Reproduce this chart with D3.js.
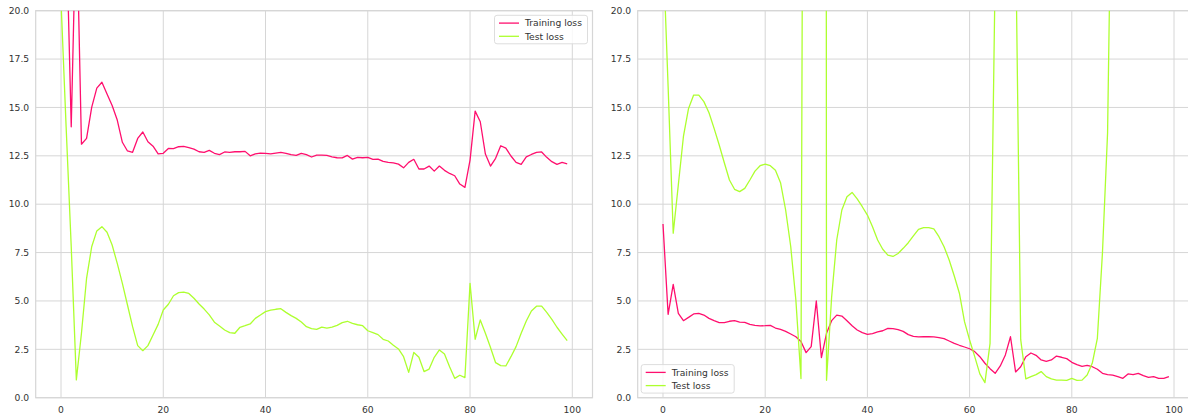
<!DOCTYPE html>
<html>
<head>
<meta charset="utf-8">
<script src="https://cdn.jsdelivr.net/npm/d3@7"></script>
<style>
  html, body { margin: 0; padding: 0; background: #ffffff; }
  svg { display: block; }
</style>
</head>
<body>
<div id="chart"></div>
<script>
// epochs 0..99
const epochs = d3.range(100);

const leftTrain = [30, 24.7, 14.0, 25.5, 13.1, 13.4, 15.0, 16.0, 16.3, 15.7,
  15.1, 14.35, 13.2, 12.75, 12.68, 13.4, 13.73, 13.23, 13.0, 12.6,
  12.63, 12.88, 12.87, 12.97, 12.99, 12.92, 12.85, 12.71, 12.68, 12.78,
  12.63, 12.56, 12.7, 12.68, 12.71, 12.71, 12.73, 12.5, 12.6, 12.64,
  12.63, 12.6, 12.64, 12.68, 12.63, 12.56, 12.52, 12.63, 12.56, 12.44,
  12.54, 12.54, 12.52, 12.45, 12.4, 12.39, 12.52, 12.33, 12.42, 12.4,
  12.42, 12.32, 12.33, 12.21, 12.16, 12.14, 12.07, 11.88, 12.16, 12.32,
  11.82, 11.82, 11.97, 11.71, 11.97, 11.75, 11.59, 11.47, 11.04, 10.87,
  12.28, 14.81, 14.26, 12.59, 11.97, 12.37, 13.02, 12.9, 12.49, 12.16,
  12.06, 12.45, 12.57, 12.68, 12.7, 12.42, 12.2, 12.06, 12.16, 12.09];

const leftTest = [20.5, 14.0, 7.8, 0.92, 3.33, 6.17, 7.8, 8.62, 8.84, 8.55,
  7.89, 6.94, 5.91, 4.79, 3.67, 2.69, 2.43, 2.69, 3.24, 3.79,
  4.53, 4.83, 5.27, 5.43, 5.46, 5.39, 5.14, 4.84, 4.58, 4.28,
  3.9, 3.71, 3.5, 3.36, 3.33, 3.64, 3.72, 3.81, 4.1, 4.27,
  4.45, 4.53, 4.57, 4.6, 4.41, 4.24, 4.1, 3.91, 3.67, 3.57,
  3.53, 3.65, 3.6, 3.65, 3.74, 3.88, 3.95, 3.84, 3.77, 3.72,
  3.46, 3.36, 3.26, 3.02, 2.93, 2.71, 2.52, 2.12, 1.31, 2.34,
  2.09, 1.35, 1.48, 2.09, 2.47, 2.26, 1.6, 1.0, 1.16, 1.04,
  5.91, 3.02, 4.02, 3.33, 2.59, 1.81, 1.66, 1.64, 2.12, 2.64,
  3.33, 3.96, 4.48, 4.73, 4.73, 4.41, 4.05, 3.64, 3.29, 2.95];

const rightTrain = [8.98, 4.31, 5.86, 4.36, 3.98, 4.15, 4.33, 4.36, 4.27, 4.1,
  3.98, 3.88, 3.88, 3.95, 3.98, 3.91, 3.89, 3.79, 3.74, 3.71,
  3.72, 3.74, 3.6, 3.53, 3.43, 3.29, 3.15, 2.9, 2.33, 2.64,
  5.0, 2.07, 3.33, 3.98, 4.27, 4.22, 3.98, 3.72, 3.5, 3.36,
  3.27, 3.31, 3.4, 3.46, 3.58, 3.57, 3.52, 3.43, 3.26, 3.17,
  3.14, 3.15, 3.15, 3.14, 3.1, 3.05, 2.93, 2.81, 2.71, 2.62,
  2.53, 2.38, 2.12, 1.78, 1.5, 1.26, 1.64, 2.21, 3.15, 1.33,
  1.6, 2.12, 2.31, 2.19, 1.95, 1.88, 1.95, 2.15, 2.09, 2.02,
  1.83, 1.71, 1.62, 1.67, 1.6, 1.47, 1.26, 1.19, 1.17, 1.09,
  1.0, 1.23, 1.19, 1.26, 1.14, 1.05, 1.09, 1.0, 1.0, 1.09];

const rightTest = [23.3, 16.1, 8.5, 11.0, 13.5, 14.95, 15.64, 15.64, 15.3, 14.73,
  13.92, 13.06, 12.14, 11.25, 10.77, 10.65, 10.82, 11.25, 11.71, 11.99,
  12.07, 11.99, 11.76, 11.11, 9.7, 7.8, 5.05, 0.99, 80, 150,
  300, 480, 0.9, 5.2, 8.15, 9.7, 10.39, 10.61, 10.27, 9.87,
  9.44, 8.84, 8.15, 7.67, 7.37, 7.3, 7.45, 7.72, 8.01, 8.36,
  8.7, 8.79, 8.79, 8.73, 8.32, 7.8, 7.12, 6.29, 5.4, 3.93,
  2.98, 2.12, 1.23, 0.78, 2.81, 22, 60, 80, 50, 24,
  3.0, 0.97, 1.09, 1.19, 1.35, 1.09, 0.97, 0.91, 0.91, 0.9,
  1.0, 0.9, 0.91, 1.17, 1.78, 3.07, 7.5, 13.7, 32, 55,
  80, 110, 140, 170, 200, 230, 260, 290, 320, 350];

const yTicks = [0, 2.5, 5, 7.5, 10, 12.5, 15, 17.5, 20];
const xTicks = [0, 20, 40, 60, 80, 100];
const seriesNames = ["Training loss", "Test loss"];

const W = 1188, H = 418;
const trainColor = "#ff0f6e";
const testColor = "#adff2f";
const gridColor = "#d6d6d6";
const textColor = "#333333";
const font = "'DejaVu Sans', sans-serif";
const fontSize = 9.2;

const svg = d3.select("#chart").append("svg")
  .attr("width", W)
  .attr("height", H)
  .attr("viewBox", [0, 0, W, H]);

function panel(id, x0, x1, train, test, legendPos) {
  const top = 10.7, bottom = 397.7;
  const x = d3.scaleLinear().domain([-4.95, 103.95]).range([x0, x1]);
  const y = d3.scaleLinear().domain([0, 20]).range([bottom, top]);

  const g = svg.append("g");

  g.append("clipPath").attr("id", "clip-" + id)
    .append("rect")
    .attr("x", x0).attr("y", top)
    .attr("width", x1 - x0).attr("height", bottom - top);

  // grid
  g.append("g")
    .selectAll("line.h")
    .data(yTicks)
    .join("line")
    .attr("x1", x0).attr("x2", x1)
    .attr("y1", d => y(d)).attr("y2", d => y(d))
    .attr("stroke", gridColor).attr("stroke-width", 1);

  g.append("g")
    .selectAll("line.v")
    .data(xTicks)
    .join("line")
    .attr("x1", d => x(d)).attr("x2", d => x(d))
    .attr("y1", top).attr("y2", bottom)
    .attr("stroke", gridColor).attr("stroke-width", 1);

  // frame
  g.append("rect")
    .attr("x", x0).attr("y", top)
    .attr("width", x1 - x0).attr("height", bottom - top)
    .attr("fill", "none")
    .attr("stroke", gridColor)
    .attr("stroke-width", 1.2);

  // tick labels
  g.append("g")
    .selectAll("text")
    .data(yTicks)
    .join("text")
    .attr("x", x0 - 6.5)
    .attr("y", d => y(d))
    .attr("dy", "0.35em")
    .attr("text-anchor", "end")
    .attr("fill", textColor)
    .style("font-family", font)
    .style("font-size", fontSize + "px")
    .text(d => d3.format(".1f")(d));

  g.append("g")
    .selectAll("text")
    .data(xTicks)
    .join("text")
    .attr("x", d => x(d))
    .attr("y", 412.7)
    .attr("text-anchor", "middle")
    .attr("fill", textColor)
    .style("font-family", font)
    .style("font-size", fontSize + "px")
    .text(d => d);

  const line = values => d3.line()
    .x(i => x(epochs[i]))
    .y(i => y(values[i]))(epochs.map((e, i) => i));

  const lines = g.append("g").attr("clip-path", `url(#clip-${id})`);
  lines.append("path")
    .attr("d", line(train))
    .attr("fill", "none")
    .attr("stroke", trainColor)
    .attr("stroke-width", 1.3)
    .attr("stroke-linejoin", "round");
  lines.append("path")
    .attr("d", line(test))
    .attr("fill", "none")
    .attr("stroke", testColor)
    .attr("stroke-width", 1.3)
    .attr("stroke-linejoin", "round");

  // legend
  const lw = 93, lh = 28.5;
  const lx = legendPos === "ur" ? x1 - 5 - lw : x0 + 3.5;
  const ly = legendPos === "ur" ? top + 4.6 : bottom - 4.6 - lh;
  const leg = g.append("g").attr("transform", `translate(${lx},${ly})`);
  leg.append("rect")
    .attr("width", lw).attr("height", lh)
    .attr("rx", 2.5)
    .attr("fill", "#ffffff").attr("fill-opacity", 0.8)
    .attr("stroke", "#d9d9d9").attr("stroke-width", 0.9);
  [trainColor, testColor].forEach((c, k) => {
    const cy = 7.8 + k * 13.2;
    leg.append("line")
      .attr("x1", 4.5).attr("x2", 24.5)
      .attr("y1", cy).attr("y2", cy)
      .attr("stroke", c).attr("stroke-width", 1.3);
    leg.append("text")
      .attr("x", 30.5).attr("y", cy)
      .attr("dy", "0.35em")
      .attr("fill", textColor)
      .style("font-family", font)
      .style("font-size", fontSize + "px")
      .text(seriesNames[k]);
  });
}

panel("a", 35.7, 592.5, leftTrain, leftTest, "ur");
panel("b", 637.7, 1194.2, rightTrain, rightTest, "ll");
</script>
</body>
</html>
